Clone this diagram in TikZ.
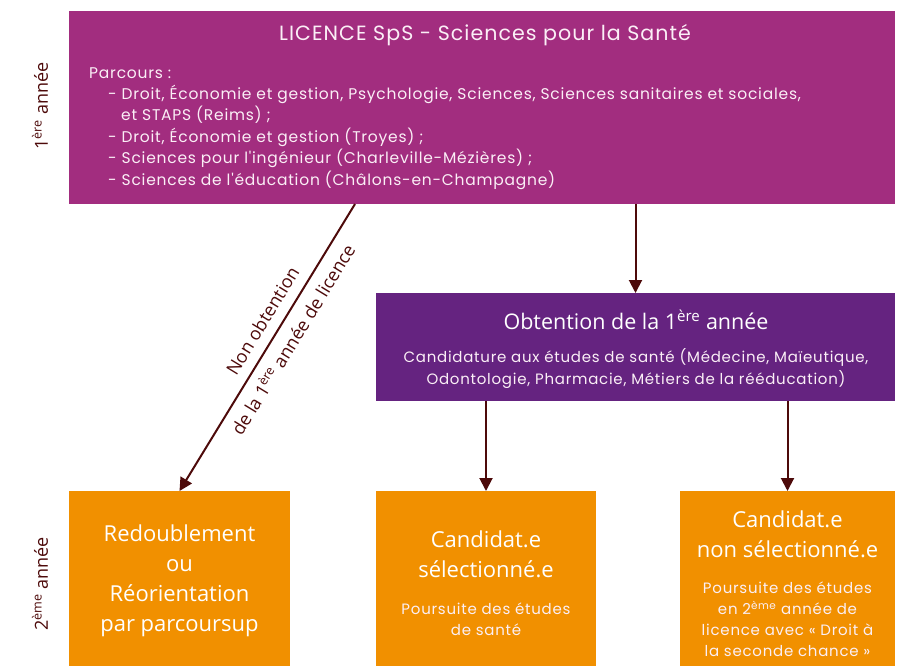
\documentclass[tikz,border=0pt]{standalone}
\usepackage{fontspec}
\setmainfont{Open Sans}
\newfontfamily\geo[LetterSpace=5]{Poppins}
\usetikzlibrary{arrows.meta}
\definecolor{mag}{HTML}{A22D7F}
\definecolor{purp}{HTML}{652380}
\definecolor{orng}{HTML}{F19000}
\definecolor{brn}{HTML}{4D0A0A}
\definecolor{pal}{HTML}{FBEFF6}
\begin{document}
\begin{tikzpicture}[x=1pt,y=-1pt,
  rect/.style={anchor=north west, inner sep=0pt, outer sep=0pt, draw=none},
  arr/.style={draw=brn, line width=2pt, -{Triangle[length=13pt,width=13pt]}},
  wtxt/.style={text=white, inner sep=0pt, align=center},
  gtxt/.style={text=pal, inner sep=0pt, align=center},
  side/.style={text=brn, rotate=90, inner sep=0pt, font=\fontsize{18}{20}\selectfont}]
\useasboundingbox (0,0) rectangle (897,666);
% boxes
\node[rect, fill=mag, minimum width=826pt, minimum height=193pt] (top) at (69,11) {};
\node[rect, fill=purp, minimum width=519pt, minimum height=108pt] (mid) at (376,293) {};
\node[rect, fill=orng, minimum width=221pt, minimum height=180pt] (b1) at (69,491) {};
\node[rect, fill=orng, minimum width=220pt, minimum height=180pt] (b2) at (376,491) {};
\node[rect, fill=orng, minimum width=215pt, minimum height=180pt] (b3) at (680,491) {};
% top texts
\node[gtxt, font=\geo\fontsize{20.6}{24}\selectfont] (title) at (485,35) {LICENCE SpS - Sciences pour la Santé};
\node[gtxt, anchor=north west, align=left, font=\geo\fontsize{15.5}{21.4}\selectfont] (parc) at (89,67)
 {Parcours :\\
  \hspace*{19pt}- Droit, Économie et gestion, Psychologie, Sciences, Sciences sanitaires et sociales,\\
  \hspace*{32pt}et STAPS (Reims) ;\\
  \hspace*{19pt}- Droit, Économie et gestion (Troyes) ;\\
  \hspace*{19pt}- Sciences pour l'ingénieur (Charleville-Mézières) ;\\
  \hspace*{19pt}- Sciences de l'éducation (Châlons-en-Champagne)};
% mid texts
\node[wtxt, font=\fontsize{21.5}{26}\selectfont] (midt) at (636,320) {Obtention de la 1\textsuperscript{ère} année};
\node[gtxt, font=\geo\fontsize{15}{22}\selectfont] (mids) at (636,369) {Candidature aux études de santé (Médecine, Maïeutique,\\Odontologie, Pharmacie, Métiers de la rééducation)};
% bottom texts
\node[wtxt, font=\fontsize{22}{30}\selectfont] (b1t) at (179.5,581) {Redoublement\\ou\\Réorientation\\par parcoursup};
\node[wtxt, font=\fontsize{22}{30}\selectfont] (b2t) at (486,554) {Candidat.e\\sélectionné.e};
\node[gtxt, font=\geo\fontsize{15}{21}\selectfont] (b2s) at (486,619.5) {Poursuite des études\\de santé};
\node[wtxt, font=\fontsize{22}{30}\selectfont] (b3t) at (787.5,534) {Candidat.e\\non sélectionné.e};
\node[gtxt, font=\geo\fontsize{15}{21}\selectfont] (b3s) at (787.5,619.5) {Poursuite des études\\en 2\textsuperscript{ème} année de\\licence avec « Droit à\\la seconde chance »};
% side labels
\node[side] (y1) at (40,106) {1\textsuperscript{ère} année};
\node[side] (y2) at (40,584) {2\textsuperscript{ème} année};
% arrows
\coordinate (d0) at (355,204);
\draw[arr] (top.south -| mid.north) -- (mid.north);
\draw[arr] (mid.south -| b2.north) -- (b2.north);
\draw[arr] (mid.south -| b3.north) -- (b3.north);
\draw[arr] (d0) -- (b1.north)
  node[pos=0.44, sloped, text=brn, align=center, inner sep=0pt, font=\fontsize{18}{36}\selectfont] (lbl) {Non obtention\\de la 1\textsuperscript{ère} année de licence};
\end{tikzpicture}
\end{document}
